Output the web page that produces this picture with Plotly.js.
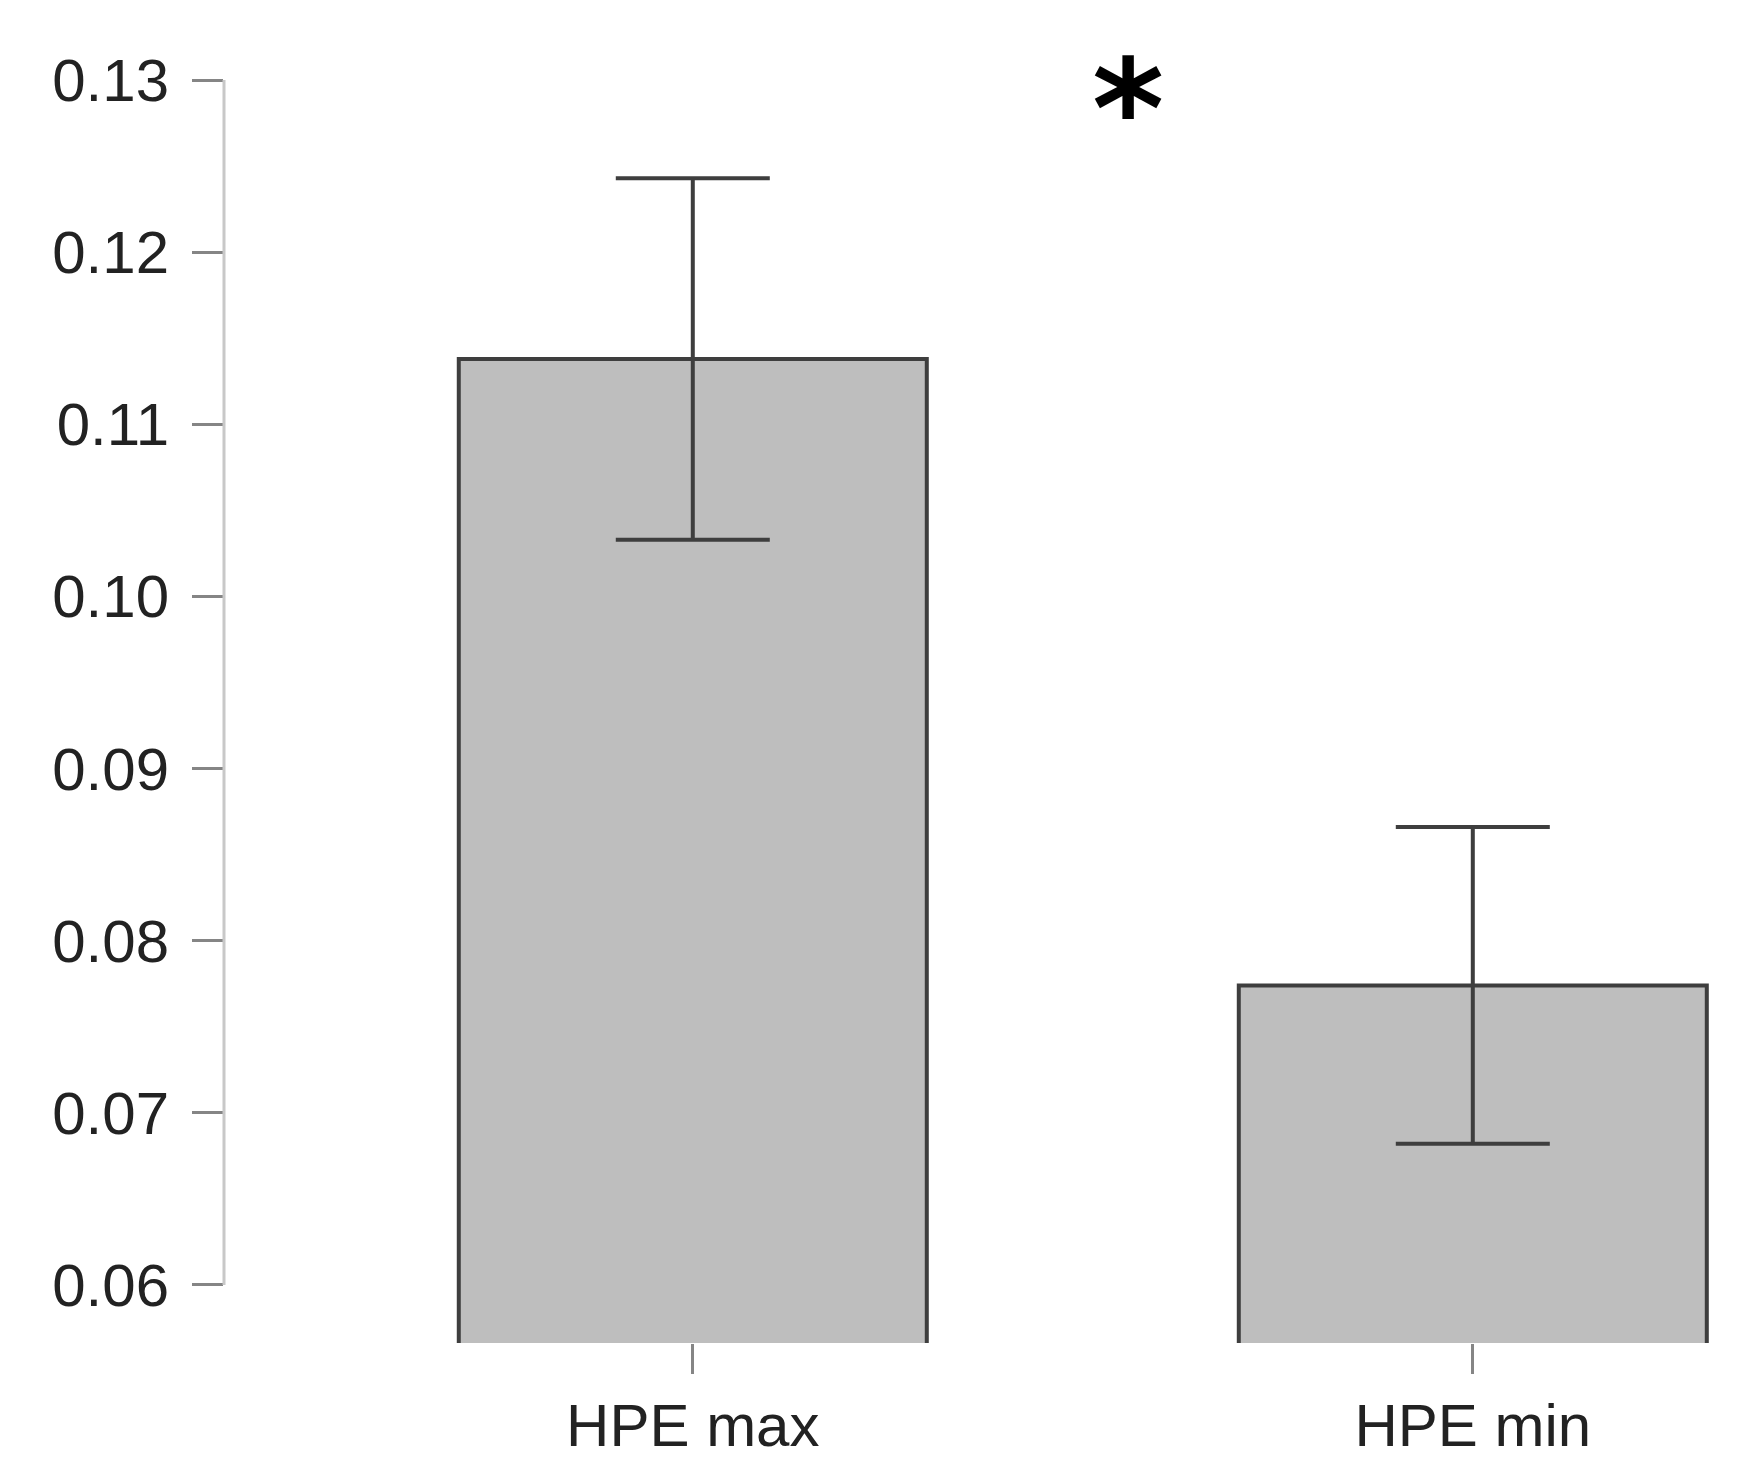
<!DOCTYPE html>
<html>
<head>
<meta charset="utf-8">
<script src="https://cdn.plot.ly/plotly-3.0.1.min.js"></script>
<style>
  html, body { margin: 0; padding: 0; background: #ffffff; }
  #chart { width: 1738px; height: 1477px; }
</style>
</head>
<body>
<div id="chart"></div>
<script>
// 数据
const groups = ['HPE max', 'HPE min'];
const means = [0.1138, 0.0774];
const errors = [0.0105, 0.0092];
const yTicks = [0.06, 0.07, 0.08, 0.09, 0.10, 0.11, 0.12, 0.13];
const signifLabel = '*';

const tickGray = '#858585';
const textColor = '#222222';

const data = [{
    type: 'bar',
    x: groups,
    y: means,
    marker: {
        color: '#bebebe',
        line: { color: '#3e3e3e', width: 4 }
    },
    error_y: {
        type: 'data',
        array: errors,
        visible: true,
        color: '#3e3e3e',
        thickness: 4,
        width: 77
    },
    hoverinfo: 'skip'
}];

const layout = {
    width: 1738,
    height: 1477,
    margin: { l: 224, r: 0, t: 20, b: 134 },
    paper_bgcolor: '#ffffff',
    plot_bgcolor: '#ffffff',
    showlegend: false,
    bargap: 0.4,
    font: { family: '"Liberation Sans", Arial, sans-serif', size: 60, color: textColor },
    xaxis: {
        type: 'category',
        range: [-0.601, 1.34],
        showline: false,
        showgrid: false,
        zeroline: false,
        ticks: 'outside',
        ticklen: 30,
        tickwidth: 3,
        tickcolor: tickGray,
        ticklabelstandoff: 0,
        tickfont: { size: 60, color: textColor }
    },
    yaxis: {
        range: [0.05663, 0.13349],
        tickvals: yTicks,
        tickformat: '.2f',
        showline: false,
        showgrid: false,
        zeroline: false,
        ticks: 'outside',
        ticklen: 31,
        tickwidth: 3,
        tickcolor: tickGray,
        ticklabelstandoff: 11,
        tickfont: { size: 60, color: textColor }
    },
    // R 风格的 y 轴线，只覆盖刻度范围
    shapes: [{
        type: 'line',
        xref: 'paper', yref: 'y',
        x0: 0, x1: 0,
        y0: yTicks[0], y1: yTicks[yTicks.length - 1],
        line: { color: '#c8c8c8', width: 3 }
    }],
    annotations: [{
        xref: 'paper', yref: 'paper',
        x: 0.597, y: 0.932,
        xanchor: 'center', yanchor: 'middle',
        text: signifLabel,
        showarrow: false,
        font: { family: '"DejaVu Sans", sans-serif', size: 138, weight: 'bold', color: '#000000' }
    }]
};

Plotly.newPlot('chart', data, layout, { displayModeBar: false, staticPlot: true });
</script>
</body>
</html>
